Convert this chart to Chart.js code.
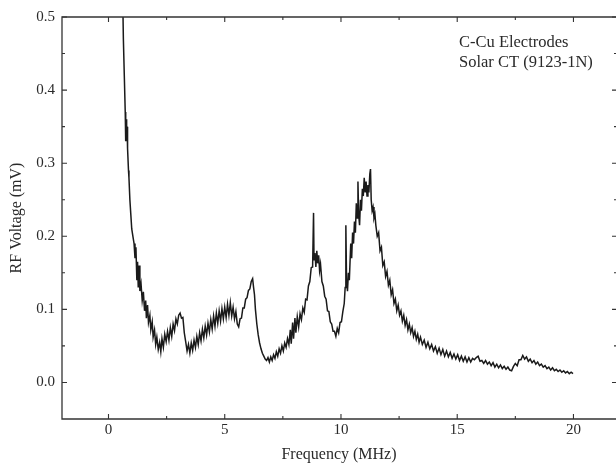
<!DOCTYPE html>
<html>
<head>
<meta charset="utf-8">
<script src="https://cdn.jsdelivr.net/npm/chart.js@4/dist/chart.umd.min.js"></script>
<style>
  html, body { margin: 0; padding: 0; background: #fff; overflow: hidden; }
</style>
</head>
<body>
<canvas id="rfChart" width="616" height="464"></canvas>
<script>
// Frequency (MHz)
const freq = [
  0.62, 0.64, 0.68, 0.72, 0.74, 0.76, 0.78, 0.80, 0.82, 0.86, 0.88, 0.92, 0.96, 1.00, 1.05, 1.10, 1.14, 1.18, 1.22, 1.25,
  1.28, 1.32, 1.35, 1.40, 1.45, 1.50, 1.55, 1.60, 1.63, 1.68, 1.72, 1.78, 1.82, 1.88, 1.92, 1.98, 2.03, 2.08, 2.14, 2.20,
  2.25, 2.30, 2.36, 2.42, 2.48, 2.54, 2.60, 2.66, 2.72, 2.78, 2.84, 2.90, 2.96, 3.02, 3.08, 3.14, 3.20, 3.26, 3.32, 3.38,
  3.44, 3.50, 3.56, 3.62, 3.68, 3.74, 3.80, 3.86, 3.92, 3.98, 4.04, 4.10, 4.16, 4.22, 4.28, 4.34, 4.40, 4.46, 4.52, 4.58,
  4.64, 4.70, 4.76, 4.82, 4.88, 4.94, 5.00, 5.06, 5.12, 5.18, 5.24, 5.30, 5.36, 5.42, 5.48, 5.54, 5.60, 5.66, 5.72, 5.78,
  5.84, 5.90, 5.96, 6.02, 6.08, 6.14, 6.20, 6.24, 6.28, 6.32, 6.38, 6.44, 6.50, 6.56, 6.62, 6.68, 6.74, 6.80, 6.86, 6.92,
  6.98, 7.04, 7.10, 7.16, 7.22, 7.28, 7.34, 7.40, 7.46, 7.52, 7.58, 7.64, 7.70, 7.76, 7.82, 7.86, 7.92, 7.96, 8.02, 8.06,
  8.12, 8.18, 8.24, 8.30, 8.36, 8.42, 8.48, 8.54, 8.60, 8.66, 8.72, 8.78, 8.82, 8.84, 8.88, 8.92, 8.96, 9.00, 9.04, 9.08,
  9.12, 9.18, 9.24, 9.30, 9.36, 9.42, 9.48, 9.54, 9.60, 9.66, 9.72, 9.78, 9.84, 9.90, 9.96, 10.02, 10.08, 10.14, 10.18, 10.21,
  10.24, 10.28, 10.32, 10.36, 10.42, 10.46, 10.50, 10.54, 10.58, 10.62, 10.66, 10.70, 10.73, 10.76, 10.80, 10.84, 10.88, 10.92, 10.96, 11.00,
  11.04, 11.08, 11.12, 11.16, 11.20, 11.24, 11.27, 11.30, 11.34, 11.38, 11.42, 11.46, 11.50, 11.56, 11.62, 11.68, 11.74, 11.80, 11.86, 11.92,
  11.98, 12.04, 12.10, 12.16, 12.22, 12.28, 12.34, 12.40, 12.46, 12.52, 12.58, 12.64, 12.70, 12.76, 12.82, 12.88, 12.94, 13.00, 13.06, 13.12,
  13.18, 13.24, 13.30, 13.36, 13.42, 13.50, 13.58, 13.66, 13.74, 13.82, 13.90, 13.98, 14.06, 14.14, 14.22, 14.30, 14.38, 14.46, 14.54, 14.62,
  14.70, 14.78, 14.86, 14.94, 15.02, 15.10, 15.18, 15.26, 15.34, 15.42, 15.50, 15.58, 15.66, 15.74, 15.82, 15.90, 15.98, 16.06, 16.14, 16.22,
  16.30, 16.38, 16.46, 16.54, 16.62, 16.70, 16.78, 16.86, 16.94, 17.02, 17.10, 17.18, 17.26, 17.34, 17.42, 17.50, 17.58, 17.66, 17.74, 17.82,
  17.90, 17.98, 18.06, 18.14, 18.22, 18.30, 18.38, 18.46, 18.54, 18.62, 18.70, 18.78, 18.86, 18.94, 19.02, 19.10, 19.18, 19.26, 19.34, 19.42,
  19.50, 19.58, 19.66, 19.74, 19.82, 19.90, 19.98
];

// RF voltage (mV) at each frequency above
const voltage = [
  0.510, 0.470, 0.420, 0.370, 0.330, 0.360, 0.330, 0.350, 0.320, 0.290, 0.280, 0.250, 0.230, 0.210, 0.200, 0.190, 0.170, 0.185, 0.140, 0.165,
  0.130, 0.160, 0.125, 0.135, 0.112, 0.124, 0.098, 0.112, 0.088, 0.106, 0.082, 0.092, 0.072, 0.083, 0.062, 0.072, 0.052, 0.062, 0.045, 0.055,
  0.042, 0.060, 0.048, 0.066, 0.056, 0.070, 0.058, 0.075, 0.063, 0.080, 0.071, 0.087, 0.080, 0.092, 0.095, 0.088, 0.089, 0.068, 0.056, 0.043,
  0.052, 0.040, 0.054, 0.044, 0.058, 0.048, 0.063, 0.052, 0.068, 0.057, 0.073, 0.061, 0.077, 0.065, 0.081, 0.069, 0.086, 0.073, 0.091, 0.077,
  0.095, 0.081, 0.098, 0.084, 0.101, 0.087, 0.103, 0.089, 0.107, 0.092, 0.109, 0.091, 0.103, 0.087, 0.097, 0.080, 0.076, 0.087, 0.088, 0.102,
  0.102, 0.114, 0.116, 0.126, 0.128, 0.138, 0.142, 0.130, 0.120, 0.100, 0.080, 0.065, 0.054, 0.046, 0.040, 0.036, 0.032, 0.030, 0.034, 0.028,
  0.035, 0.030, 0.038, 0.033, 0.042, 0.036, 0.046, 0.040, 0.050, 0.043, 0.054, 0.048, 0.060, 0.052, 0.072, 0.053, 0.082, 0.060, 0.088, 0.068,
  0.090, 0.076, 0.094, 0.086, 0.102, 0.096, 0.114, 0.113, 0.132, 0.138, 0.157, 0.158, 0.232, 0.168, 0.177, 0.158, 0.180, 0.163, 0.174, 0.153,
  0.162, 0.138, 0.132, 0.118, 0.114, 0.098, 0.097, 0.083, 0.080, 0.070, 0.070, 0.063, 0.074, 0.068, 0.082, 0.083, 0.097, 0.108, 0.130, 0.215,
  0.140, 0.125, 0.150, 0.140, 0.190, 0.170, 0.205, 0.190, 0.220, 0.205, 0.245, 0.225, 0.275, 0.230, 0.215, 0.250, 0.235, 0.265, 0.255, 0.280,
  0.260, 0.275, 0.255, 0.270, 0.260, 0.285, 0.292, 0.250, 0.235, 0.240, 0.225, 0.230, 0.215, 0.200, 0.205, 0.180, 0.185, 0.160, 0.165, 0.145,
  0.152, 0.133, 0.140, 0.120, 0.127, 0.108, 0.114, 0.098, 0.106, 0.092, 0.098, 0.084, 0.092, 0.078, 0.086, 0.072, 0.080, 0.068, 0.075, 0.063,
  0.070, 0.059, 0.066, 0.055, 0.062, 0.052, 0.058, 0.048, 0.055, 0.046, 0.052, 0.043, 0.049, 0.040, 0.047, 0.038, 0.045, 0.036, 0.043, 0.035,
  0.041, 0.033, 0.039, 0.032, 0.038, 0.030, 0.036, 0.029, 0.035, 0.028, 0.034, 0.028, 0.033, 0.031, 0.034, 0.036, 0.029, 0.030, 0.026, 0.030,
  0.025, 0.028, 0.023, 0.027, 0.021, 0.025, 0.020, 0.024, 0.019, 0.022, 0.018, 0.021, 0.017, 0.016, 0.022, 0.026, 0.023, 0.031, 0.031, 0.037,
  0.032, 0.035, 0.029, 0.032, 0.027, 0.030, 0.025, 0.028, 0.023, 0.025, 0.021, 0.023, 0.019, 0.021, 0.017, 0.020, 0.016, 0.018, 0.015, 0.017,
  0.014, 0.016, 0.013, 0.015, 0.012, 0.014, 0.012
];

// axis ticks
const xMajorTicks = [0, 5, 10, 15, 20];
const xMinorTicks = [2.5, 7.5, 12.5, 17.5];
const yMajorTicks = [0.0, 0.1, 0.2, 0.3, 0.4, 0.5];
const yMinorTicks = [0.05, 0.15, 0.25, 0.35, 0.45];

const annotationLines = ['C-Cu Electrodes', 'Solar CT (9123-1N)'];

const serif = "'Liberation Serif', 'Times New Roman', serif";
const inkColor = '#2a2a2a';

const points = freq.map((f, i) => ({ x: f, y: voltage[i] }));

function setTicks(majors, minors) {
  return function(scale) {
    scale.ticks = majors.concat(minors)
      .sort((a, b) => a - b)
      .map(v => ({ value: v, major: majors.includes(v) }));
  };
}

// left/top/bottom frame, inward ticks on all four sides, x tick labels, corner label
const framePlugin = {
  id: 'rfFrame',
  afterDraw(chart) {
    const { ctx, chartArea: a, scales } = chart;
    ctx.save();
    ctx.strokeStyle = '#333';
    ctx.lineWidth = 1.3;
    ctx.beginPath();
    ctx.moveTo(a.right, a.top);
    ctx.lineTo(a.left, a.top);
    ctx.lineTo(a.left, a.bottom);
    ctx.lineTo(a.right, a.bottom);
    ctx.stroke();

    ctx.lineWidth = 1.1;
    ctx.beginPath();
    scales.x.ticks.forEach(t => {
      const px = scales.x.getPixelForValue(t.value);
      const len = t.major ? 5 : 3;
      ctx.moveTo(px, a.bottom); ctx.lineTo(px, a.bottom - len);
      ctx.moveTo(px, a.top); ctx.lineTo(px, a.top + len);
    });
    scales.y.ticks.forEach(t => {
      const py = scales.y.getPixelForValue(t.value);
      const len = t.major ? 5 : 3;
      ctx.moveTo(a.left, py); ctx.lineTo(a.left + len, py);
      ctx.moveTo(a.right, py); ctx.lineTo(a.right - len + 1, py);
    });
    ctx.stroke();

    ctx.fillStyle = inkColor;
    ctx.font = '15px ' + serif;
    ctx.textAlign = 'center';
    ctx.textBaseline = 'top';
    xMajorTicks.forEach(v => {
      ctx.fillText(String(v), scales.x.getPixelForValue(v), a.bottom + 4);
    });

    ctx.font = '16.5px ' + serif;
    ctx.textBaseline = 'middle';
    ctx.textAlign = 'left';
    annotationLines.forEach((line, i) => {
      ctx.fillText(line, 459, 43 + i * 20);
    });
    ctx.restore();
  }
};

new Chart(document.getElementById('rfChart'), {
  type: 'scatter',
  data: {
    datasets: [{
      data: points,
      showLine: true,
      borderColor: '#1a1a1a',
      borderWidth: 1.5,
      pointRadius: 0
    }]
  },
  options: {
    responsive: false,
    animation: false,
    layout: { padding: { top: 17, right: 0, left: 0, bottom: 0 } },
    plugins: {
      legend: { display: false },
      tooltip: { enabled: false }
    },
    scales: {
      x: {
        type: 'linear',
        min: -2,
        max: 21.83,
        afterBuildTicks: setTicks(xMajorTicks, xMinorTicks),
        afterFit: scale => { scale.height = 45; },
        grid: { display: false, drawTicks: false },
        border: { display: false },
        ticks: { display: false },
        title: {
          display: true,
          text: 'Frequency (MHz)',
          color: inkColor,
          font: { family: serif, size: 16 },
          padding: { top: 0, bottom: 0 }
        }
      },
      y: {
        type: 'linear',
        min: -0.05,
        max: 0.5,
        afterBuildTicks: setTicks(yMajorTicks, yMinorTicks),
        afterFit: scale => { scale.width = 62; },
        grid: { display: false, drawTicks: false },
        border: { display: false },
        ticks: {
          padding: 7,
          color: inkColor,
          font: { family: serif, size: 15 },
          autoSkip: false,
          callback: v => yMajorTicks.includes(v) ? v.toFixed(1) : ''
        },
        title: {
          display: true,
          text: 'RF Voltage (mV)',
          color: inkColor,
          font: { family: serif, size: 16 },
          padding: { top: 7, bottom: 0 }
        }
      }
    }
  },
  plugins: [framePlugin]
});
</script>
</body>
</html>
